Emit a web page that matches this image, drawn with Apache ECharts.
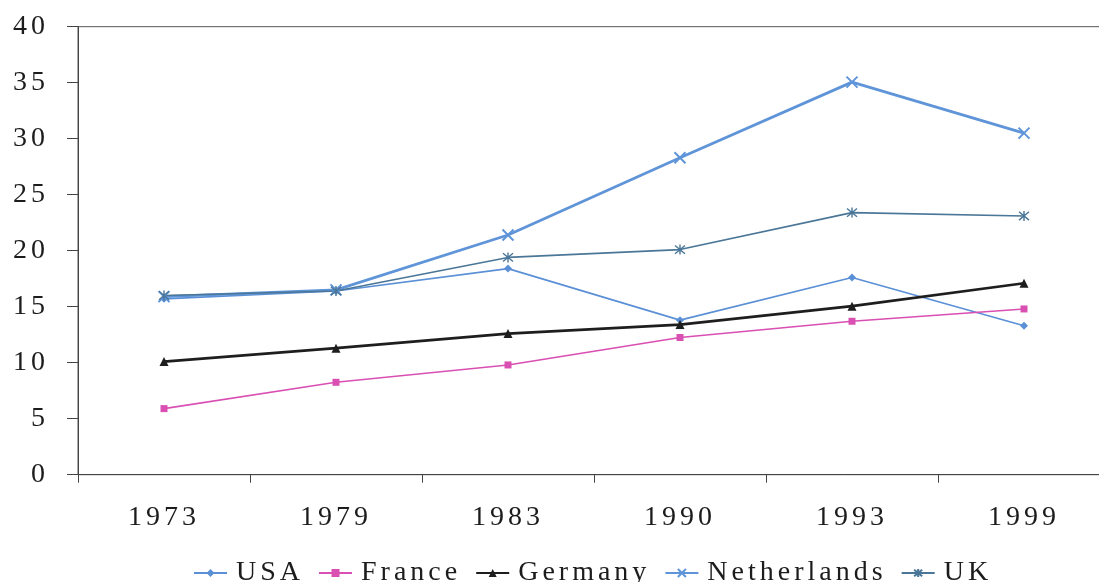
<!DOCTYPE html>
<html>
<head>
<meta charset="utf-8">
<style>html,body{margin:0;padding:0;background:#fff}#c{width:1099px;height:582px}</style>
<script src="https://cdn.jsdelivr.net/npm/echarts@6/dist/echarts.min.js"></script>
</head>
<body>
<div id="c"></div>
<script>
// letter-spaced text like the reference
(function(){
  var d = Object.getOwnPropertyDescriptor(CanvasRenderingContext2D.prototype, 'font');
  if (d && d.set) {
    Object.defineProperty(CanvasRenderingContext2D.prototype, 'font', {
      configurable: true,
      get: function(){ return d.get.call(this); },
      set: function(v){ d.set.call(this, v); try { this.letterSpacing = '4px'; } catch(e){} }
    });
  }
})();

var categories = ['1973', '1979', '1983', '1990', '1993', '1999'];
var usa         = [15.7, 16.4, 18.4, 13.8, 17.6, 13.3];
var france      = [5.9, 8.25, 9.8, 12.25, 13.7, 14.8];
var germany     = [10.1, 11.3, 12.6, 13.4, 15.05, 17.1];
var netherlands = [15.9, 16.5, 21.4, 28.3, 35.05, 30.5];
var uk          = [16.0, 16.4, 19.4, 20.1, 23.4, 23.1];

var FONT = 'Liberation Serif';
var TXT = '#1c1c1c';
var X_PATH = 'path://M0,0L10,10M10,0L0,10';
var STAR_PATH = 'path://M0,0L10,10M10,0L0,10M5,-1L5,11';

function ser(name, data, color, width, symbol, size, stroke) {
  return {
    name: name, type: 'line', data: data,
    symbol: symbol, symbolSize: size, showSymbol: true,
    lineStyle: { color: color, width: width },
    itemStyle: stroke ? { color: color, borderColor: color, borderWidth: stroke } : { color: color },
    emphasis: { disabled: true },
    z: 2
  };
}

var chart = echarts.init(document.getElementById('c'));
chart.setOption({
  animation: false,
  backgroundColor: '#fff',
  textStyle: { fontFamily: FONT },
  grid: { left: 78, top: 26.7, width: 1032, height: 448, show: true, borderColor: '#555', borderWidth: 1, containLabel: false, outerBoundsMode: 'none' },
  legend: {
    left: 188, top: 552,
    itemWidth: 33, itemHeight: 10, itemGap: 14,
    textStyle: { fontFamily: FONT, fontSize: 28, color: TXT, padding: [0, 0, 0, 4] },
    data: ['USA', 'France', 'Germany', 'Netherlands', 'UK']
  },
  xAxis: {
    type: 'category', data: categories, boundaryGap: true,
    axisLine: { lineStyle: { color: '#444', width: 1 } },
    axisTick: { show: true, length: 8, lineStyle: { color: '#444' } },
    axisLabel: { fontFamily: FONT, fontSize: 28, color: TXT, margin: 27 },
    splitLine: { show: false }
  },
  yAxis: {
    type: 'value', min: 0, max: 40, interval: 5,
    axisLine: { show: true, lineStyle: { color: '#444', width: 1 } },
    axisTick: { show: true, length: 11, lineStyle: { color: '#444' } },
    axisLabel: { fontFamily: FONT, fontSize: 28, color: TXT, margin: 29 },
    splitLine: { show: false }
  },
  series: [
    ser('USA', usa, '#5b90d6', 1.6, 'diamond', 8),
    ser('France', france, '#d94fb2', 1.6, 'rect', 7),
    ser('Germany', germany, '#1e1e1e', 2.6, 'triangle', 9),
    ser('Netherlands', netherlands, '#5f95d8', 2.8, X_PATH, 11, 2),
    ser('UK', uk, '#4a7698', 1.6, STAR_PATH, 10, 1.4)
  ]
});
</script>
</body>
</html>
